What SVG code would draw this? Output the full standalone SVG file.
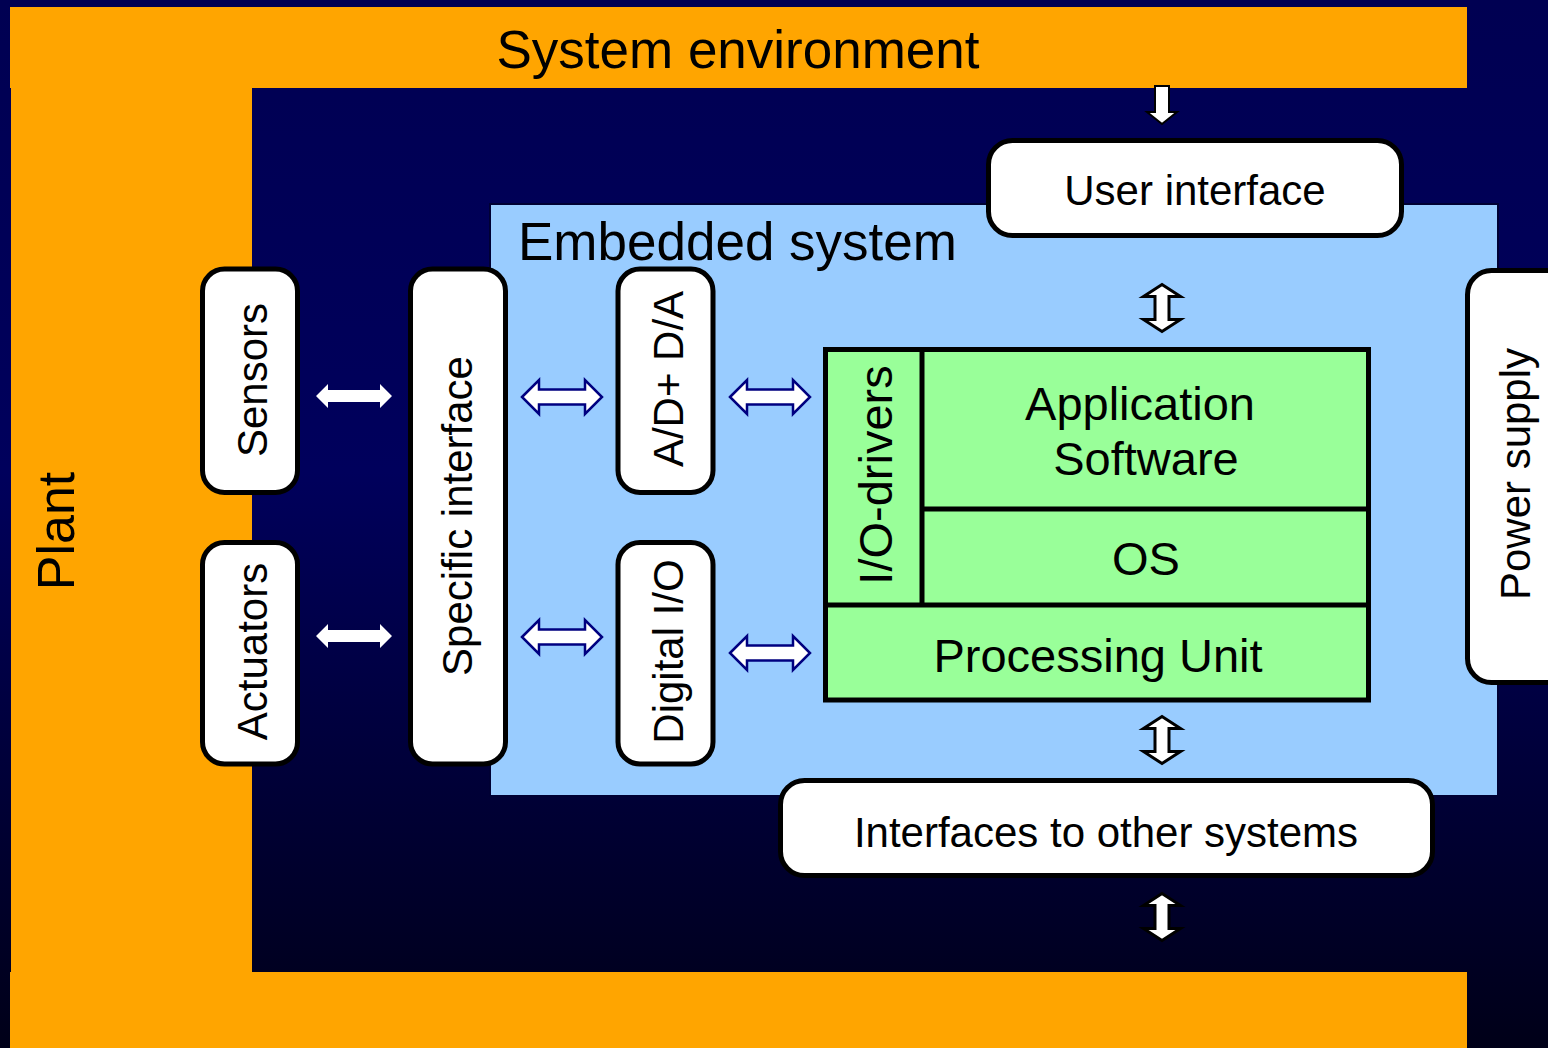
<svg xmlns="http://www.w3.org/2000/svg" xmlns:xlink="http://www.w3.org/1999/xlink" width="1548" height="1048" viewBox="0 0 1548 1048">
  <defs>
    <linearGradient id="bg" x1="0" y1="0" x2="0" y2="1">
      <stop offset="0" stop-color="#000052"/>
      <stop offset="0.45" stop-color="#00005c"/>
      <stop offset="1" stop-color="#000018"/>
    </linearGradient>
    <!-- solid white two-way arrow, horizontal -->
    <path id="arrowSolid" d="M-38,0 L-26,-12 L-26,-6 L26,-6 L26,-12 L38,0 L26,12 L26,6 L-26,6 L-26,12 Z"/>
    <!-- outlined two-way arrow, horizontal -->
    <path id="arrowHollow" d="M-40,0 L-23,-17 L-23,-7.5 L23,-7.5 L23,-17 L40,0 L23,17 L23,7.5 L-23,7.5 L-23,17 Z"/>
    <!-- outlined two-way arrow, vertical -->
    <path id="arrowVert" d="M0,-23.5 L18.5,-11.5 L7,-11.5 L7,11.5 L18.5,11.5 L0,23.5 L-18.5,11.5 L-7,11.5 L-7,-11.5 L-18.5,-11.5 Z"/>
  </defs>
  <style>
    text { font-family: "Liberation Sans", Arial, sans-serif; fill: #000; }
    .box { fill: #fff; stroke: #000; stroke-width: 5; }
    .lbl { font-size: 42px; text-anchor: middle; }
    .green { fill: #99ff99; stroke: #000; stroke-width: 5; }
    .glbl { font-size: 47px; text-anchor: middle; }
    .solid { fill: #fff; }
    .hollow { fill: #fff; stroke: #000080; stroke-width: 2.5; stroke-linejoin: miter; }
    .vert { fill: #fff; stroke: #000; stroke-width: 3; stroke-linejoin: miter; }
  </style>

  <!-- backdrop -->
  <rect x="0" y="0" width="1548" height="1048" fill="url(#bg)"/>

  <!-- system environment frame -->
  <g id="environment">
    <path d="M10,7 H1467 V88 H252 V972 H1467 V1048 H10 V972 H11 V88 H10 Z" fill="#ffa500"/>
    <text x="738" y="68" font-size="53" text-anchor="middle">System environment</text>
    <text transform="translate(74,531) rotate(-90)" font-size="52" text-anchor="middle">Plant</text>
  </g>

  <!-- embedded system area -->
  <g id="embedded-system">
    <rect x="490" y="204" width="1008" height="592" fill="#99ccff" stroke="#000033" stroke-width="2"/>
    <text x="518" y="260" font-size="53">Embedded system</text>
  </g>

  <g id="user-interface">
    <rect class="box" x="988.5" y="140.5" width="413" height="95" rx="24"/>
    <text class="lbl" x="1195" y="205">User interface</text>
  </g>

  <g id="power-supply">
    <rect class="box" x="1467.5" y="270.5" width="110" height="412" rx="24"/>
    <text class="lbl" transform="translate(1530,474) rotate(-90)">Power supply</text>
  </g>

  <g id="other-interfaces">
    <rect class="box" x="780.5" y="780.5" width="652" height="95" rx="24"/>
    <text class="lbl" x="1106" y="847">Interfaces to other systems</text>
  </g>

  <g id="sensors">
    <rect class="box" x="202.5" y="269" width="95" height="223.5" rx="22"/>
    <text class="lbl" transform="translate(267,380) rotate(-90)">Sensors</text>
  </g>

  <g id="actuators">
    <rect class="box" x="202.5" y="542.5" width="95" height="221.5" rx="22"/>
    <text class="lbl" transform="translate(267,651.5) rotate(-90)">Actuators</text>
  </g>

  <g id="specific-interface">
    <rect class="box" x="410.5" y="269" width="95" height="495" rx="22"/>
    <text class="lbl" transform="translate(472,516) rotate(-90)">Specific interface</text>
  </g>

  <g id="ad-da">
    <rect class="box" x="618" y="269" width="95" height="223.5" rx="22"/>
    <text class="lbl" transform="translate(683,379) rotate(-90)">A/D+ D/A</text>
  </g>

  <g id="digital-io">
    <rect class="box" x="618" y="542.5" width="95" height="221.5" rx="22"/>
    <text class="lbl" transform="translate(683,651.5) rotate(-90)">Digital I/O</text>
  </g>

  <!-- software / hardware stack -->
  <g id="stack">
    <rect class="green" x="825.5" y="349.5" width="543" height="350.5"/>
    <line x1="922" y1="349.5" x2="922" y2="605" stroke="#000" stroke-width="5"/>
    <line x1="922" y1="509" x2="1368.5" y2="509" stroke="#000" stroke-width="5"/>
    <line x1="825.5" y1="605" x2="1368.5" y2="605" stroke="#000" stroke-width="5"/>
  </g>
  <g id="io-drivers">
    <text transform="translate(892,475) rotate(-90)" class="glbl">I/O-drivers</text>
  </g>
  <g id="application-software">
    <text class="glbl" x="1140" y="420">Application</text>
    <text class="glbl" x="1146" y="475">Software</text>
  </g>
  <g id="os">
    <text class="glbl" x="1146" y="575">OS</text>
  </g>
  <g id="processing-unit">
    <text class="glbl" x="1098" y="672">Processing Unit</text>
  </g>

  <!-- connectors -->
  <g id="connectors">
    <use href="#arrowSolid" class="solid" x="354" y="396"/>
    <use href="#arrowSolid" class="solid" x="354" y="636"/>
    <use href="#arrowHollow" class="hollow" x="562" y="397"/>
    <use href="#arrowHollow" class="hollow" x="562" y="637"/>
    <use href="#arrowHollow" class="hollow" x="770" y="397"/>
    <use href="#arrowHollow" class="hollow" x="770" y="653"/>
    <path d="M1155,86 L1169,86 L1169,112 L1177,112 L1162,124 L1147,112 L1155,112 Z" fill="#fff" stroke="#000" stroke-width="2"/>
    <use href="#arrowVert" class="vert" x="1162" y="308"/>
    <use href="#arrowVert" class="vert" x="1162" y="740"/>
    <use href="#arrowVert" class="vert" x="1162" y="917"/>
  </g>
</svg>
